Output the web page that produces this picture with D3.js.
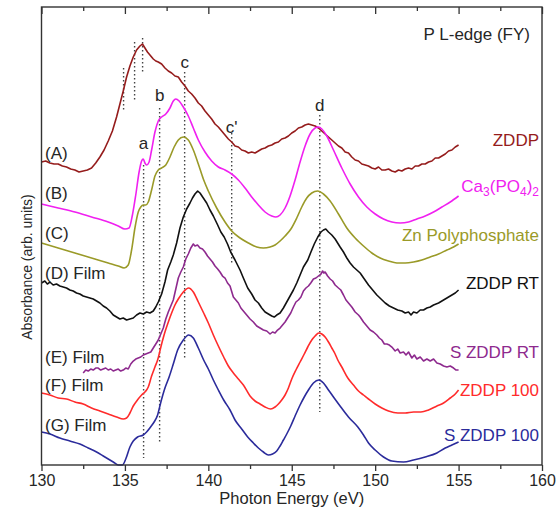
<!DOCTYPE html>
<html>
<head>
<meta charset="utf-8">
<script src="https://cdn.jsdelivr.net/npm/d3@7"></script>
<style>
  html, body { margin: 0; padding: 0; background: #fff; }
  svg { display: block; font-family: "Liberation Sans", Arial, Helvetica, sans-serif; }
</style>
</head>
<body>
<svg id="chart" width="559" height="507"></svg>
<script>
// P L-edge XANES spectra (fluorescence yield), stacked with vertical offsets.
// Each series: [photon energy (eV), absorbance (arb. units, offset included)]

const zddp = [[130.0,303],[130.25,304],[130.5,302],[130.75,301],[131.0,301],[131.25,299],[131.5,298],[131.75,296],[132.0,295],[132.25,293],[132.5,294],[132.75,295],[133.0,297],[133.25,302],[133.5,308],[133.75,315],[134.0,324],[134.25,334],[134.5,348],[134.7,361],[134.9,374],[135.1,388],[135.3,399],[135.5,408],[135.7,415],[135.9,419],[136.05,421],[136.2,417],[136.35,413],[136.5,410],[136.7,406],[136.85,404],[137.0,403],[137.2,401],[137.4,397],[137.6,394],[137.8,392],[138.0,389],[138.2,388],[138.4,383],[138.6,379],[138.8,374],[139.0,371],[139.2,367],[139.4,362],[139.6,359],[139.8,354],[140.0,350],[140.2,346],[140.4,341],[140.6,338],[140.8,334],[141.0,330],[141.2,326],[141.4,323],[141.6,319],[141.8,318],[142.0,315],[142.2,314],[142.4,312],[142.6,313],[142.8,312],[143.0,314],[143.2,316],[143.4,317],[143.6,319],[143.8,320],[144.0,322],[144.2,323],[144.4,326],[144.6,327],[144.8,329],[145.0,332],[145.2,334],[145.4,337],[145.6,338],[145.8,340],[146.0,341],[146.2,340],[146.4,339],[146.6,337],[146.8,334],[147.0,331],[147.2,328],[147.4,325],[147.6,322],[147.8,319],[148.0,317],[148.2,313],[148.4,312],[148.6,308],[148.8,305],[149.0,304],[149.2,301],[149.4,300],[149.6,299],[149.8,297],[150.0,296],[150.2,298],[150.4,295],[150.6,295],[150.8,296],[151.0,294],[151.2,293],[151.4,295],[151.6,294],[151.8,296],[152.0,297],[152.2,296],[152.4,299],[152.6,299],[152.8,301],[153.0,301],[153.2,303],[153.4,304],[153.6,307],[153.8,307],[154.0,309],[154.2,311],[154.4,314],[154.6,315],[154.8,318],[155.0,320]];

const caPhosphate = [[130.0,261],[131.0,257],[132.0,253],[133.0,248],[134.0,243],[134.6,239],[135.0,236],[135.25,237],[135.45,250],[135.65,270],[135.85,293],[136.0,304],[136.1,306],[136.2,302],[136.3,300],[136.45,303],[136.6,315],[136.8,333],[137.0,344],[137.2,348],[137.45,351],[137.7,357],[137.9,364],[138.05,366],[138.25,364],[138.5,358],[138.8,349],[139.1,337],[139.4,325],[139.8,313],[140.2,304],[140.6,298],[141.0,295],[141.4,291],[141.8,285],[142.2,277],[142.6,268],[143.0,260],[143.4,253],[143.8,249],[144.05,248],[144.3,250],[144.6,257],[144.9,269],[145.2,285],[145.5,303],[145.8,319],[146.1,331],[146.4,337],[146.6,338],[146.8,336],[147.1,329],[147.5,315],[148.0,297],[148.5,281],[149.0,268],[149.5,258],[150.0,251],[150.5,246],[151.0,243],[151.5,242],[152.0,243],[152.5,246],[153.0,249],[153.5,253],[154.0,258],[154.5,263],[155.0,269]];

const znPolyphosphate = [[130.0,222],[131.0,217],[132.0,212],[133.0,207],[134.0,202],[134.6,199],[134.95,197],[135.2,200],[135.4,215],[135.6,237],[135.8,253],[135.95,258],[136.1,260],[136.25,260],[136.4,263],[136.6,275],[136.8,289],[137.0,295],[137.2,297],[137.45,300],[137.7,308],[137.95,318],[138.2,325],[138.5,328],[138.8,325],[139.1,315],[139.4,301],[139.7,286],[140.0,274],[140.5,257],[141.0,243],[141.4,234],[141.9,227],[142.4,222],[142.9,218],[143.3,217],[143.7,218],[144.0,220],[144.3,224],[144.6,229],[144.95,236],[145.3,247],[145.6,258],[145.9,267],[146.2,272],[146.55,274],[146.9,271],[147.3,264],[147.8,251],[148.3,237],[148.8,227],[149.3,219],[149.8,212],[150.3,207],[150.8,204],[151.3,202],[151.8,202],[152.3,203],[152.8,205],[153.3,208],[153.8,211],[154.3,215],[154.7,218],[155.0,221]];

const zddpRT = [[130.0,182],[130.2,184],[130.35,181],[130.5,183],[130.7,180],[130.9,181],[131.1,179],[131.3,178],[131.5,177],[131.7,175],[131.9,174],[132.1,172],[132.3,171],[132.5,169],[132.7,168],[132.9,167],[133.1,166],[133.3,164],[133.5,162],[133.7,159],[133.9,157],[134.1,154],[134.3,150],[134.5,148],[134.7,146],[134.9,147],[135.1,145],[135.3,146],[135.5,147],[135.7,150],[135.9,152],[136.1,151],[136.3,153],[136.5,152],[136.7,154],[136.85,158],[137.0,163],[137.2,171],[137.4,183],[137.56,195],[137.75,203],[137.9,210],[138.1,222],[138.3,237],[138.5,248],[138.7,256],[138.9,262],[139.05,267],[139.2,271],[139.36,274],[139.5,272],[139.7,267],[139.9,262],[140.1,255],[140.3,249],[140.56,240],[140.75,233],[140.95,228],[141.15,221],[141.34,213],[141.6,205],[141.9,195],[142.1,187],[142.36,177],[142.6,171],[142.8,165],[143.0,162],[143.2,157],[143.4,153],[143.6,151],[143.8,149],[143.95,148],[144.1,150],[144.3,152],[144.5,157],[144.7,163],[144.9,169],[145.1,175],[145.3,182],[145.5,190],[145.7,198],[145.96,205],[146.15,213],[146.35,221],[146.56,228],[146.75,233],[146.9,235],[147.04,236],[147.2,233],[147.4,230],[147.6,226],[147.9,218],[148.1,213],[148.3,207],[148.5,202],[148.7,198],[148.9,195],[149.1,192],[149.35,186],[149.6,180],[149.85,175],[150.1,170],[150.35,166],[150.6,162],[150.85,159],[151.1,157],[151.35,155],[151.6,154],[151.8,152],[152.0,153],[152.15,150],[152.3,153],[152.5,152],[152.7,155],[152.9,155],[153.1,157],[153.3,158],[153.5,160],[153.8,162],[154.0,164],[154.3,167],[154.6,170],[154.8,172],[155.0,175]];

const sZddpRT = [[132.5,92],[132.65,95],[132.8,94],[132.95,96],[133.1,95],[133.25,97],[133.4,97],[133.55,95],[133.7,96],[133.85,97],[134.0,95],[134.15,96],[134.3,94],[134.45,95],[134.6,96],[134.75,94],[134.9,95],[135.05,97],[135.2,96],[135.35,101],[135.5,104],[135.65,106],[135.8,107],[135.95,108],[136.1,110],[136.25,111],[136.4,112],[136.55,113],[136.7,117],[136.85,121],[137.0,125],[137.15,131],[137.3,137],[137.45,146],[137.6,153],[137.75,159],[137.9,165],[138.05,176],[138.2,187],[138.35,193],[138.5,198],[138.65,206],[138.8,211],[138.95,217],[139.1,221],[139.2,219],[139.35,220],[139.5,217],[139.65,216],[139.8,213],[139.95,209],[140.1,206],[140.25,203],[140.4,199],[140.56,196],[140.7,193],[140.85,189],[141.0,187],[141.15,182],[141.3,179],[141.5,168],[141.65,165],[141.8,162],[141.95,157],[142.1,154],[142.3,150],[142.5,146],[142.7,143],[142.9,139],[143.1,137],[143.3,135],[143.5,134],[143.7,131],[143.85,133],[144.0,132],[144.15,135],[144.3,137],[144.45,140],[144.6,143],[144.75,147],[144.94,152],[145.1,158],[145.25,163],[145.4,165],[145.55,168],[145.7,174],[145.85,177],[146.0,179],[146.14,182],[146.3,186],[146.45,187],[146.6,189],[146.75,191],[146.85,194],[146.92,192],[147.0,193],[147.15,189],[147.3,186],[147.45,184],[147.6,180],[147.8,177],[147.94,175],[148.1,170],[148.25,165],[148.4,162],[148.6,158],[148.8,153],[149.0,150],[149.1,148],[149.3,143],[149.5,139],[149.7,135],[149.9,133],[150.1,130],[150.25,127],[150.4,125],[150.55,121],[150.7,121],[150.85,120],[151.0,118],[151.2,114],[151.35,116],[151.5,112],[151.7,113],[151.85,110],[152.0,113],[152.2,107],[152.35,110],[152.5,106],[152.7,108],[152.9,104],[153.1,106],[153.3,104],[153.5,106],[153.7,102],[153.9,101],[154.1,99],[154.3,98],[154.5,99],[154.7,97],[154.85,95],[155.0,95]];

const zddp100 = [[130.0,72],[130.5,70],[131.0,67],[131.5,66],[132.0,63],[132.5,61],[133.0,57],[133.5,54],[134.0,51],[134.5,48],[134.9,46],[135.1,47],[135.3,52],[135.5,59],[135.75,65],[136.0,70],[136.2,73],[136.4,78],[136.6,89],[136.8,98],[136.96,105],[137.2,121],[137.4,133],[137.56,141],[137.8,152],[138.0,160],[138.2,166],[138.5,173],[138.82,177],[139.1,173],[139.4,163],[139.72,152],[140.0,142],[140.3,130],[140.6,119],[140.92,108],[141.2,99],[141.5,92],[141.8,86],[142.1,80],[142.5,69],[142.8,64],[143.1,61],[143.4,58],[143.74,56],[144.0,58],[144.2,61],[144.4,65],[144.6,70],[144.8,77],[145.0,86],[145.25,95],[145.5,103],[145.75,111],[145.96,118],[146.2,125],[146.4,129],[146.62,132],[146.8,131],[147.0,128],[147.2,123],[147.4,117],[147.6,111],[147.76,105],[148.0,98],[148.36,87],[148.7,80],[149.0,74],[149.3,70],[149.6,66],[150.0,61],[150.4,57],[150.8,54],[151.36,52],[151.8,52],[152.3,53],[152.74,53],[153.2,55],[153.7,59],[154.1,62],[154.5,67],[154.8,71],[155.0,75]];

const sZddp100 = [[130.0,33],[130.5,31],[131.1,27],[131.7,24],[132.3,21],[132.8,17],[133.3,13],[133.7,9],[134.0,6],[134.3,3],[134.6,0],[134.85,0],[135.05,6],[135.3,18],[135.5,24],[135.76,28],[136.1,30],[136.3,33],[136.54,38],[136.75,43],[136.96,50],[137.14,62],[137.4,77],[137.65,88],[137.9,101],[138.16,115],[138.5,125],[138.82,130],[139.1,127],[139.4,117],[139.72,105],[140.0,96],[140.3,85],[140.6,75],[140.92,65],[141.3,55],[141.6,45],[142.0,36],[142.36,28],[142.7,22],[143.0,17],[143.3,13],[143.6,10],[143.85,11],[144.1,14],[144.3,19],[144.5,25],[144.7,31],[144.94,39],[145.2,49],[145.5,60],[145.75,68],[146.0,75],[146.3,82],[146.62,85],[146.9,82],[147.2,75],[147.5,68],[147.94,58],[148.4,48],[148.96,38],[149.3,30],[149.6,22],[150.0,15],[150.5,8],[151.0,4],[151.7,3],[152.3,5],[153.0,8],[153.7,12],[154.2,17],[154.6,20],[155.0,23]];

// Sample names (right) and spectrum tags (left)
const sampleNames = ["ZDDP", "Ca3(PO4)2", "Zn Polyphosphate", "ZDDP RT", "S ZDDP RT", "ZDDP 100", "S ZDDP 100"];
const sampleTags = ["(A)", "(B)", "(C)", "(D) Film", "(E) Film", "(F) Film", "(G) Film"];

// Feature markers: energy (eV) and the absorbance span of the dotted guide
const featureLabels = ["a", "b", "c", "c'", "d", "", "", ""];
const featureEnergy = [136.12, 137.08, 138.58, 141.4, 146.68, 134.92, 135.58, 136.06];
const featureTop    = [300, 357, 393, 332, 350, 397, 423, 427];
const featureBottom = [7, 22, 107, 200, 53, 355, 365, 393];

// Axis ticks
const xTicks = [130, 135, 140, 145, 150, 155, 160];
const xMinorTicks = [132.5, 137.5, 142.5, 147.5, 152.5, 157.5];

// ---- styling / layout ----
const colors = ["#951c1c", "#f020f0", "#9a9a28", "#111111", "#8e2a8e", "#ff2b2b", "#2b2b9b"];
const noisy  = [true, false, false, true, true, false, false];
const tagLevel  = [312, 272, 232, 192, 108, 80, 40];   // vertical placement of left tags (arb. units)
const nameLevel = [325, 279, 230, 182, 113, 75, 30];   // vertical placement of right names (arb. units)
const featureLabelLevel = [322, 370, 403, 338, 360];

const series = [zddp, caPhosphate, znPolyphosphate, zddpRT, sZddpRT, zddp100, sZddp100];

const plot = { left: 41.5, right: 542, top: 7, bottom: 465 };

const svg = d3.select("#chart");

const x = d3.scaleLinear().domain([130, 160]).range([plot.left, plot.right]);
const y = d3.scaleLinear().domain([0, 458]).range([plot.bottom, plot.top]);

const textColor = "#262626";
const axisColor = "#333";

// dotted feature guides
const guides = svg.append("g").attr("class", "guides");
featureEnergy.forEach((e, i) => {
  guides.append("line")
    .attr("x1", x(e)).attr("x2", x(e))
    .attr("y1", y(featureTop[i])).attr("y2", y(featureBottom[i]))
    .attr("stroke", "#444")
    .attr("stroke-width", 1.4)
    .attr("stroke-dasharray", "1.4,2.6");
});

// spectra
const smoothLine = d3.line().x(d => x(d[0])).y(d => y(d[1])).curve(d3.curveMonotoneX);
const rawLine = d3.line().x(d => x(d[0])).y(d => y(d[1])).curve(d3.curveLinear);

svg.append("g").attr("class", "spectra")
  .selectAll("path")
  .data(series)
  .join("path")
    .attr("fill", "none")
    .attr("stroke", (d, i) => colors[i])
    .attr("stroke-width", 1.6)
    .attr("stroke-linejoin", "round")
    .attr("d", (d, i) => noisy[i] ? rawLine(d) : smoothLine(d));

// frame
svg.append("rect")
  .attr("x", plot.left).attr("y", plot.top)
  .attr("width", plot.right - plot.left).attr("height", plot.bottom - plot.top)
  .attr("fill", "none").attr("stroke", axisColor).attr("stroke-width", 1.4);

// bottom axis: outward ticks with labels
const bottomMajor = svg.append("g")
  .attr("transform", `translate(0,${plot.bottom})`)
  .call(d3.axisBottom(x).tickValues(xTicks).tickSize(6).tickSizeOuter(0).tickPadding(3.5));
const bottomMinor = svg.append("g")
  .attr("transform", `translate(0,${plot.bottom})`)
  .call(d3.axisBottom(x).tickValues(xMinorTicks).tickSize(4).tickSizeOuter(0).tickFormat(""));

// top axis: inward ticks, no labels
const topMajor = svg.append("g")
  .attr("transform", `translate(0,${plot.top})`)
  .call(d3.axisTop(x).tickValues(xTicks).tickSize(-7).tickSizeOuter(0).tickFormat(""));
const topMinor = svg.append("g")
  .attr("transform", `translate(0,${plot.top})`)
  .call(d3.axisTop(x).tickValues(xMinorTicks).tickSize(-4).tickSizeOuter(0).tickFormat(""));

[bottomMajor, bottomMinor, topMajor, topMinor].forEach(g => {
  g.select(".domain").remove();
  g.selectAll(".tick line").attr("stroke", axisColor).attr("stroke-width", 1.3);
});
bottomMajor.selectAll(".tick text")
  .attr("fill", textColor)
  .style("font-size", "16px")
  .style("font-family", "'Liberation Sans', Arial, sans-serif");

// axis titles
svg.append("text")
  .attr("x", (plot.left + plot.right) / 2)
  .attr("y", 503.5)
  .attr("text-anchor", "middle")
  .attr("fill", textColor)
  .style("font-size", "16.5px")
  .text("Photon Energy (eV)");

svg.append("text")
  .attr("transform", `translate(32,${y(198)}) rotate(-90)`)
  .attr("text-anchor", "middle")
  .attr("fill", textColor)
  .style("font-size", "14px")
  .text("Absorbance (arb. units)");

// edge title
svg.append("text")
  .attr("x", 530).attr("y", 40)
  .attr("text-anchor", "end")
  .attr("fill", textColor)
  .style("font-size", "17px")
  .text("P L-edge (FY)");

// left tags
svg.append("g").selectAll("text")
  .data(sampleTags)
  .join("text")
    .attr("x", 45)
    .attr("y", (d, i) => y(tagLevel[i]) + 6)
    .attr("fill", textColor)
    .style("font-size", "17px")
    .text(d => d);

// right sample names (digits inside a chemical formula become subscripts)
const names = svg.append("g");
sampleNames.forEach((name, i) => {
  const t = names.append("text")
    .attr("x", 539)
    .attr("y", y(nameLevel[i]) + 6)
    .attr("text-anchor", "end")
    .attr("fill", colors[i])
    .style("font-size", "17px");
  const isFormula = !name.includes(" ") && /[A-Za-z)]\d/.test(name);
  if (!isFormula) { t.text(name); return; }
  const parts = name.match(/\d+|[^\d]+/g);
  let shifted = false;
  parts.forEach(p => {
    const ts = t.append("tspan").text(p);
    if (/^\d+$/.test(p)) {
      ts.attr("dy", shifted ? 0 : 4).style("font-size", "12px");
      shifted = true;
    } else if (shifted) {
      ts.attr("dy", -4);
      shifted = false;
    }
  });
});

// feature letters
svg.append("g").selectAll("text")
  .data(featureLabels.filter(d => d))
  .join("text")
    .attr("x", (d, i) => x(featureEnergy[i]))
    .attr("y", (d, i) => y(featureLabelLevel[i]) + 6)
    .attr("text-anchor", "middle")
    .attr("fill", textColor)
    .style("font-size", "17px")
    .text(d => d);
</script>
</body>
</html>
